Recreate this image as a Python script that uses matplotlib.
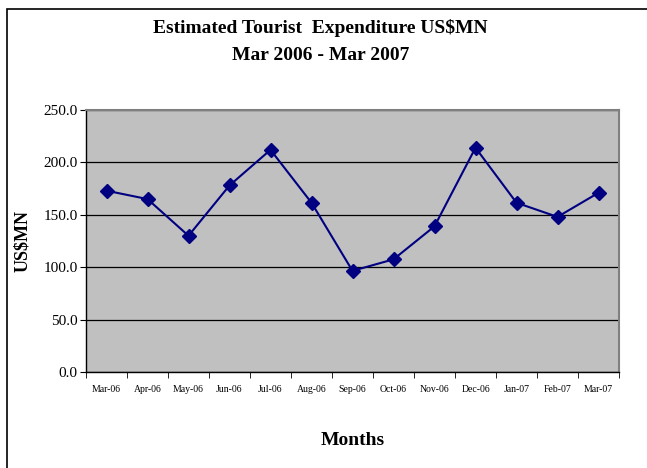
import numpy as np
import matplotlib.pyplot as plt
from matplotlib.patches import Rectangle

months = ['Mar-06', 'Apr-06', 'May-06', 'Jun-06', 'Jul-06', 'Aug-06', 'Sep-06',
          'Oct-06', 'Nov-06', 'Dec-06', 'Jan-07', 'Feb-07', 'Mar-07']
spend = [173, 165, 130, 178, 212, 161.5, 96.5, 107.5, 139, 214, 161.5, 148, 171]

plt.rcParams['font.family'] = ['Liberation Serif', 'DejaVu Serif']

fig = plt.figure(figsize=(6.47, 4.68), dpi=100)
fig.patches.append(Rectangle((7/647, -0.1), 1.2, 1 - 9/468 + 0.1, transform=fig.transFigure,
                             fill=False, edgecolor='black', linewidth=1.2))

ax = fig.add_axes([86/647, 96/468, 533/647, 262/468])
ax.set_facecolor('#c0c0c0')

x = np.arange(len(months))
ax.plot(x, spend, color='#000080', linewidth=1.5, marker='D', markersize=7.5,
        markerfacecolor='#000080', markeredgecolor='#000080', zorder=3)

ax.set_xlim(-0.5, len(months) - 0.5)
ax.set_ylim(0, 250)
ax.set_yticks(np.arange(0, 251, 50))
ax.set_yticklabels(['%.1f' % v for v in np.arange(0, 251, 50)], fontsize=11)
ax.yaxis.grid(True, color='black', linewidth=0.9)
ax.set_axisbelow(True)

ax.set_xticks(x)
ax.set_xticklabels(months, fontsize=7)
ax.set_xticks(np.arange(-0.5, len(months), 1), minor=True)
ax.tick_params(axis='x', which='major', length=0, pad=9)
ax.tick_params(axis='x', which='minor', length=4, direction='out', color='black')
ax.tick_params(axis='y', length=4, direction='out', color='black', pad=2)

for s in ['top', 'right']:
    ax.spines[s].set_color('#808080')
    ax.spines[s].set_linewidth(1.5)
for s in ['left', 'bottom']:
    ax.spines[s].set_color('black')
    ax.spines[s].set_linewidth(1.0)

ax.set_ylabel('US$MN', fontsize=13, fontweight='bold', labelpad=9)
ax.set_xlabel('Months', fontsize=14, fontweight='bold', labelpad=28)

fig.text(0.495, 1 - 28/468, 'Estimated Tourist  Expenditure US$MN', ha='center', va='center',
         fontsize=14, fontweight='bold')
fig.text(0.495, 1 - 55/468, 'Mar 2006 - Mar 2007', ha='center', va='center',
         fontsize=14, fontweight='bold')

fig.savefig('out.png', dpi=100)
